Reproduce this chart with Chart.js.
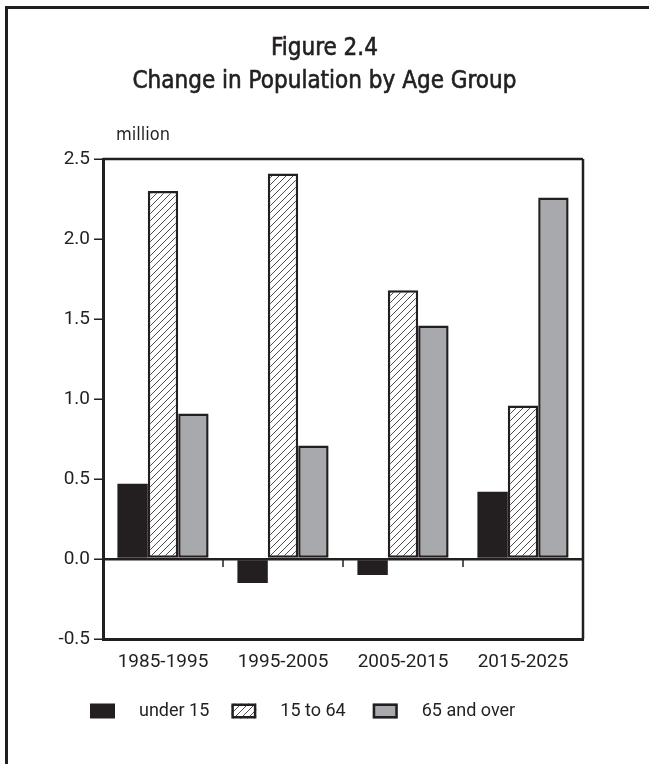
<!DOCTYPE html>
<html>
<head>
<meta charset="utf-8">
<script src="https://cdn.jsdelivr.net/npm/chart.js@4.4.1/dist/chart.umd.min.js"></script>
<style>
  html, body { margin: 0; padding: 0; background: #fff; }
  #wrap { position: relative; width: 649px; height: 764px; }
  #frame { position: absolute; left: 5px; top: 6px; right: 0; bottom: 0;
           border-left: 3px solid #231f20; border-top: 3px solid #231f20; }
  canvas { position: absolute; left: 0; top: 0; }
</style>
</head>
<body>
<div id="wrap">
  <div id="frame"></div>
  <canvas id="chart" width="649" height="764"></canvas>
</div>
<script>
  // data (million persons)
  const periods = ['1985-1995', '1995-2005', '2005-2015', '2015-2025'];
  const seriesNames = ['under 15', '15 to 64', '65 and over'];
  const under15 = [0.47, -0.15, -0.10, 0.42];
  const age15to64 = [2.30, 2.41, 1.68, 0.96];
  const age65plus = [0.91, 0.71, 1.46, 2.26];
  const yTicks = [-0.5, 0.0, 0.5, 1.0, 1.5, 2.0, 2.5];
  const titleLines = ['Figure 2.4', 'Change in Population by Age Group'];

  const INK = '#231f20';
  const GREY = '#a7a9ac';
  const CONDENSED = '"DejaVu Sans Condensed", "DejaVu Sans"';

  // diagonal hatch used for the 15 to 64 bars
  function hatch() {
    const s = 7;
    const c = document.createElement('canvas');
    c.width = s; c.height = s;
    const g = c.getContext('2d');
    g.fillStyle = '#fff';
    g.fillRect(0, 0, s, s);
    g.strokeStyle = '#3a3a3a';
    g.lineWidth = 0.9;
    g.beginPath();
    g.moveTo(-1, s + 1); g.lineTo(s + 1, -1);
    g.moveTo(-1, 1); g.lineTo(1, -1);
    g.moveTo(s - 1, s + 1); g.lineTo(s + 1, s - 1);
    g.stroke();
    return g.createPattern(c, 'repeat');
  }

  // title (centred on the page, not the plot), box round the plot,
  // zero line ticks, "million" label and the legend
  const extras = {
    id: 'extras',
    afterDatasetsDraw(chart) {
      const {ctx, chartArea: a, scales: {x, y}} = chart;
      ctx.save();

      ctx.fillStyle = INK;
      ctx.strokeStyle = INK;
      ctx.textAlign = 'center';
      ctx.textBaseline = 'alphabetic';
      ctx.font = '24px ' + CONDENSED;
      ctx.lineWidth = 0.6;
      titleLines.forEach((t, i) => {
        ctx.fillText(t, chart.width / 2, 55 + i * 33);
        ctx.strokeText(t, chart.width / 2, 55 + i * 33);
      });

      ctx.lineWidth = 2.5;
      ctx.beginPath();
      ctx.moveTo(a.left, a.top); ctx.lineTo(a.right, a.top);
      ctx.moveTo(a.right, a.top); ctx.lineTo(a.right, a.bottom);
      ctx.stroke();

      // ticks between categories, hanging from the zero line
      const y0 = y.getPixelForValue(0);
      ctx.lineWidth = 1.5;
      ctx.beginPath();
      for (let i = 0; i < periods.length - 1; i++) {
        const bx = (x.getPixelForValue(i) + x.getPixelForValue(i + 1)) / 2;
        ctx.moveTo(bx, y0); ctx.lineTo(bx, y0 + 8);
      }
      ctx.stroke();

      ctx.textAlign = 'left';
      ctx.font = '18px ' + CONDENSED;
      ctx.fillText('million', a.left + 13, a.top - 19);

      // legend
      ctx.font = '18px Roboto';
      ctx.textBaseline = 'middle';
      let lx = a.left - 13;
      const ly = a.bottom + 72;
      const gapAfter = [22, 27, 0];
      chart.data.datasets.forEach((ds, i) => {
        ctx.fillStyle = ds.backgroundColor;
        ctx.fillRect(lx, ly - 7.5, 25, 15);
        if (ds.borderWidth) {
          ctx.lineWidth = 2.5;
          ctx.strokeStyle = INK;
          ctx.strokeRect(lx + 1.25, ly - 6.25, 22.5, 12.5);
        }
        ctx.fillStyle = INK;
        ctx.fillText(ds.label, lx + 49, ly);
        lx += 49 + ctx.measureText(ds.label).width + gapAfter[i];
      });
      ctx.restore();
    }
  };

  new Chart(document.getElementById('chart'), {
    type: 'bar',
    data: {
      labels: periods,
      datasets: [
        {label: seriesNames[0], data: under15, backgroundColor: INK, borderColor: INK, borderWidth: 0},
        {label: seriesNames[1], data: age15to64, backgroundColor: hatch(), borderColor: INK, borderWidth: 2.5},
        {label: seriesNames[2], data: age65plus, backgroundColor: GREY, borderColor: INK, borderWidth: 2.5}
      ]
    },
    options: {
      responsive: false,
      animation: false,
      devicePixelRatio: 1,
      layout: {padding: {left: 0, right: 66, top: 159, bottom: 84}},
      datasets: {bar: {categoryPercentage: 0.76, barPercentage: 1.0, borderSkipped: false}},
      plugins: {
        legend: {display: false},
        tooltip: {enabled: false},
        title: {display: false}
      },
      scales: {
        x: {
          grid: {display: false, drawTicks: false},
          border: {display: true, color: INK, width: 3},
          ticks: {color: INK, font: {family: 'Roboto', size: 19}, padding: 12},
          afterFit: s => { s.height = 41; }
        },
        y: {
          min: -0.5, max: 2.5,
          afterBuildTicks: s => { s.ticks = yTicks.map(v => ({value: v})); },
          grid: {
            color: c => (c.tick && c.tick.value === 0 ? INK : 'rgba(0,0,0,0)'),
            lineWidth: 2.5,
            tickColor: INK, tickWidth: 1.5, tickLength: 9
          },
          border: {display: true, color: INK, width: 3},
          ticks: {color: INK, font: {family: 'Roboto', size: 19}, padding: 4,
                  callback: v => v.toFixed(1)},
          afterFit: s => { s.width = 103; }
        }
      }
    },
    plugins: [extras]
  });
</script>
</body>
</html>
